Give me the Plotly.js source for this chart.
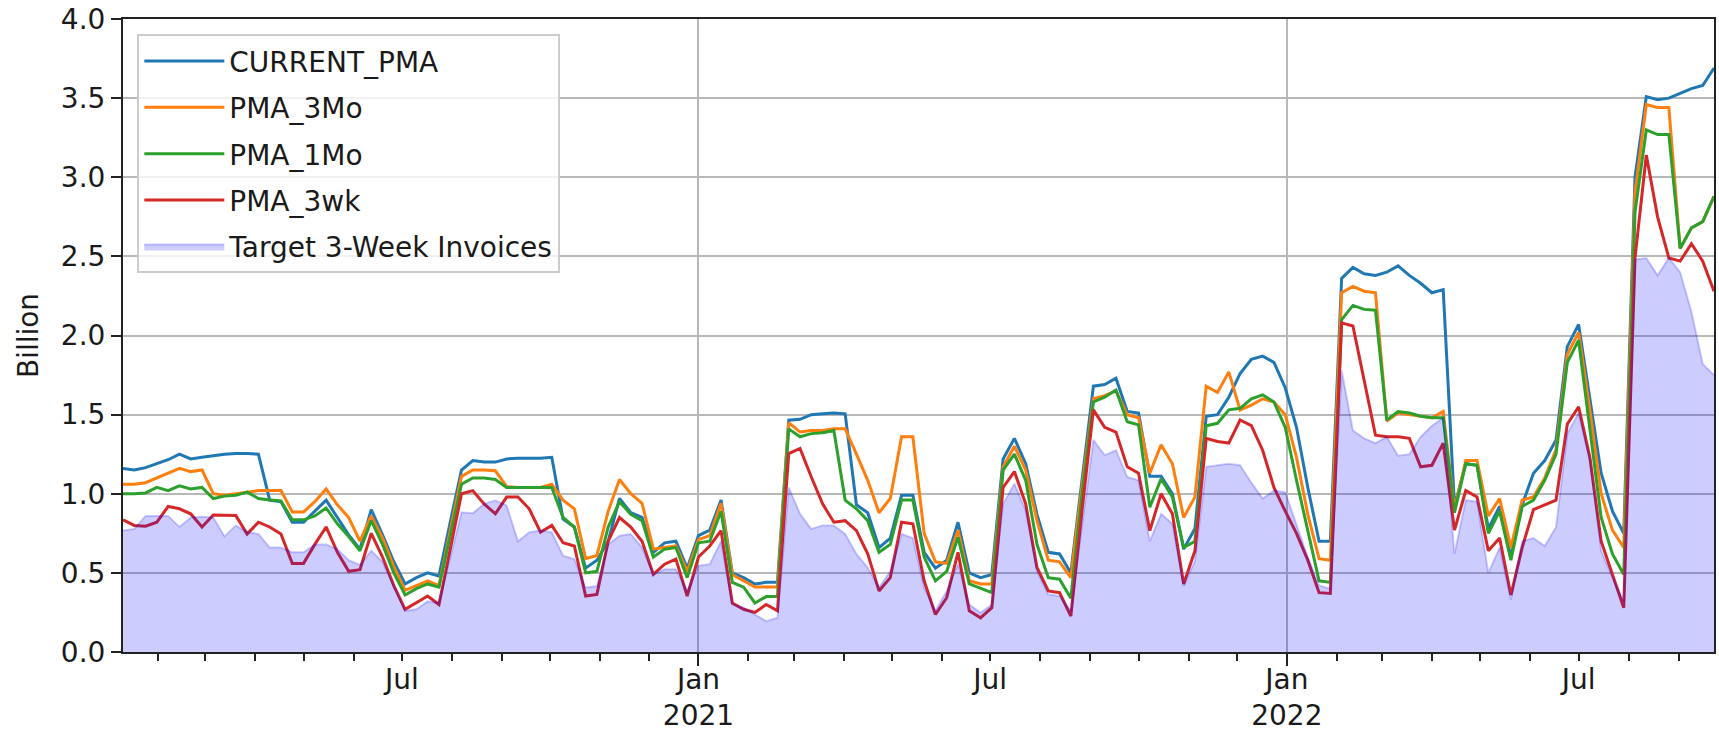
<!DOCTYPE html>
<html><head><meta charset="utf-8">
<script src="https://cdn.plot.ly/plotly-3.0.1.min.js"></script>
<style>html,body{margin:0;padding:0;background:#fff}#chart{width:1719px;height:732px}</style>
</head><body><div id="chart"></div>
<script>
// Weekly periods, first week ending Friday 2020-01-10
const firstWeek = '2020-01-10';
const weekCount = 142;

const currentPMA = [
 1.16,1.15,1.165,1.19,1.215,1.25,1.22,1.23,1.24,1.25,1.255,1.255,1.25,
 0.96,0.95,0.82,0.82,0.89,0.96,0.85,0.74,0.65,0.9,0.74,0.57,0.43,0.47,0.5,0.48,
 0.82,1.15,1.21,1.2,1.2,1.22,1.225,1.225,1.225,1.23,
 0.84,0.79,0.53,0.58,0.7,0.97,0.88,0.85,0.63,0.69,0.7,0.53,0.735,0.77,0.96,0.5,0.47,0.43,0.44,0.44,
 1.465,1.47,1.5,1.505,1.51,1.505,0.93,0.88,0.66,0.72,0.99,0.99,0.63,0.53,0.58,0.82,0.5,0.47,0.49,
 1.22,1.35,1.19,0.87,0.63,0.62,0.5,1.1,1.68,1.69,1.73,1.52,1.51,1.11,1.11,1.0,0.65,0.78,
 1.49,1.5,1.61,1.76,1.85,1.87,1.83,1.67,1.42,1.04,0.7,0.7,
 2.36,2.43,2.39,2.38,2.4,2.44,2.38,2.33,2.27,2.29,
 0.92,1.19,1.18,0.78,0.92,0.6,0.93,1.13,1.21,1.34,1.93,2.07,1.59,1.13,0.89,0.75,
 3.0,3.51,3.49,3.5,3.53,3.56,3.58,3.69
];
const pma3Mo = [
 1.06,1.06,1.07,1.1,1.13,1.16,1.14,1.15,1.0,0.99,1.0,1.01,1.02,
 1.02,1.02,0.885,0.885,0.95,1.03,0.93,0.85,0.7,0.86,0.72,0.54,0.39,0.42,0.45,0.42,
 0.77,1.11,1.15,1.15,1.145,1.045,1.04,1.04,1.04,1.06,
 0.96,0.905,0.59,0.61,0.89,1.09,1.0,0.94,0.65,0.66,0.67,0.51,0.71,0.735,0.94,0.49,0.45,0.41,0.41,0.41,
 1.45,1.39,1.4,1.4,1.41,1.41,1.25,1.085,0.88,0.97,1.36,1.36,0.75,0.57,0.56,0.77,0.45,0.43,0.43,
 1.17,1.3,1.15,0.83,0.58,0.57,0.47,1.05,1.6,1.62,1.65,1.5,1.48,1.13,1.31,1.19,0.85,0.98,
 1.68,1.64,1.77,1.53,1.56,1.6,1.58,1.5,1.23,0.87,0.59,0.58,
 2.27,2.31,2.28,2.27,1.46,1.51,1.5,1.49,1.48,1.52,
 0.9,1.21,1.21,0.86,0.97,0.66,0.96,0.98,1.1,1.28,1.88,2.02,1.53,1.0,0.77,0.66,
 2.9,3.46,3.44,3.44,2.55,2.68,2.72,2.88
];
const pma1Mo = [
 1.0,1.0,1.005,1.04,1.02,1.05,1.03,1.04,0.97,0.985,0.99,1.01,0.97,
 0.96,0.955,0.835,0.835,0.86,0.91,0.81,0.73,0.64,0.83,0.68,0.5,0.36,0.4,0.43,0.41,
 0.74,1.06,1.1,1.1,1.09,1.04,1.04,1.04,1.04,1.04,
 0.85,0.79,0.5,0.51,0.79,0.95,0.87,0.83,0.6,0.65,0.66,0.47,0.69,0.7,0.89,0.44,0.41,0.31,0.35,0.35,
 1.41,1.36,1.38,1.385,1.4,0.96,0.905,0.83,0.63,0.68,0.96,0.96,0.6,0.45,0.51,0.725,0.43,0.4,0.375,
 1.15,1.25,1.085,0.68,0.47,0.46,0.34,1.0,1.58,1.61,1.655,1.455,1.435,0.915,1.095,0.98,0.66,0.7,
 1.43,1.445,1.53,1.54,1.6,1.625,1.58,1.42,1.085,0.77,0.45,0.44,
 2.1,2.19,2.165,2.16,1.466,1.52,1.51,1.49,1.48,1.48,
 0.88,1.19,1.18,0.75,0.89,0.58,0.92,0.96,1.085,1.25,1.83,1.97,1.42,0.85,0.62,0.49,
 2.78,3.3,3.27,3.27,2.55,2.68,2.72,2.88
];
const pma3wk = [
 0.835,0.8,0.795,0.82,0.92,0.905,0.873,0.79,0.866,0.866,0.862,0.746,0.82,
 0.79,0.746,0.56,0.56,0.68,0.79,0.63,0.51,0.52,0.75,0.6,0.42,0.27,0.31,0.354,0.3,
 0.65,1.0,1.02,0.936,0.873,0.979,0.979,0.905,0.757,0.8,
 0.69,0.67,0.354,0.364,0.7,0.85,0.79,0.7,0.49,0.555,0.587,0.354,0.6,0.67,0.767,0.31,0.27,0.25,0.3,0.26,
 1.254,1.286,1.106,0.936,0.82,0.83,0.767,0.62,0.386,0.47,0.82,0.81,0.45,0.237,0.343,0.63,0.26,0.216,0.28,
 1.04,1.14,0.936,0.534,0.386,0.375,0.227,0.9,1.53,1.42,1.39,1.17,1.13,0.767,1.0,0.873,0.43,0.64,
 1.35,1.33,1.32,1.466,1.43,1.275,1.04,0.89,0.75,0.58,0.375,0.37,
 2.08,2.06,1.72,1.37,1.36,1.36,1.35,1.17,1.18,1.32,
 0.77,1.02,0.98,0.64,0.72,0.36,0.66,0.9,0.93,0.96,1.44,1.55,1.23,0.7,0.49,0.28,
 2.49,3.14,2.75,2.49,2.47,2.58,2.47,2.28
];
const target3Week = [
 0.767,0.777,0.86,0.86,0.86,0.79,0.85,0.855,0.85,0.73,0.8,0.757,0.746,
 0.66,0.66,0.63,0.63,0.68,0.68,0.65,0.58,0.55,0.64,0.57,0.42,0.26,0.27,0.32,0.31,
 0.6,0.883,0.877,0.936,0.958,0.926,0.7,0.757,0.767,0.757,
 0.608,0.587,0.407,0.417,0.68,0.735,0.746,0.66,0.49,0.523,0.523,0.386,0.545,0.555,0.7,0.3,0.28,0.237,0.195,0.216,
 1.04,0.873,0.777,0.8,0.8,0.746,0.62,0.534,0.407,0.51,0.746,0.72,0.407,0.26,0.386,0.555,0.3,0.248,0.3,
 0.936,1.064,0.894,0.51,0.364,0.354,0.26,0.8,1.34,1.244,1.275,1.106,1.085,0.7,0.873,0.81,0.417,0.576,
 1.17,1.18,1.19,1.18,1.07,0.97,1.02,1.01,0.8,0.6,0.42,0.4,
 1.78,1.4,1.35,1.32,1.36,1.24,1.25,1.36,1.43,1.48,
 0.62,0.96,0.95,0.5,0.66,0.33,0.7,0.72,0.67,0.79,1.38,1.51,1.21,0.64,0.47,0.32,
 2.48,2.49,2.38,2.49,2.4,2.15,1.82,1.75
];

const tickDates = ['2020-07-01','2021-01-01','2021-07-01','2022-01-01','2022-07-01'];
const tickLabels = ['Jul','Jan<br>2021','Jul','Jan<br>2022','Jul'];
const yearDates = ['2021-01-01','2022-01-01'];
const seriesNames = ['CURRENT_PMA','PMA_3Mo','PMA_1Mo','PMA_3wk','Target 3-Week Invoices'];
const yAxisLabel = 'Billion';

const t0 = Date.parse(firstWeek + 'T00:00:00Z');
const weeks = [];
for (let i = 0; i < weekCount; i++) weeks.push(new Date(t0 + i * 7 * 86400000).toISOString().slice(0, 10));

const colors = ['#1f77b4', '#ff7f0e', '#2ca02c', '#d62728'];
const lineSeries = [currentPMA, pma3Mo, pma1Mo, pma3wk];
const traces = lineSeries.map((ys, k) => ({
  x: weeks, y: ys, name: seriesNames[k], type: 'scatter', mode: 'lines',
  line: {color: colors[k], width: 3}, legendgroup: 'g' + k
}));
traces.push({
  x: weeks, y: target3Week, name: seriesNames[4], type: 'scatter', mode: 'lines',
  fill: 'tozeroy', fillcolor: 'rgba(0,0,255,0.2)',
  line: {color: 'rgba(0,0,255,0.2)', width: 2}, legendgroup: 'g4'
});
traces.push({x: [weeks[0]], y: [null], xaxis: 'x2', showlegend: false, hoverinfo: 'skip', mode: 'lines'});

const axisColor = '#222222';
const gridColor = '#b8b8b8';
const layout = {
  width: 1719, height: 732,
  margin: {l: 123, r: 5, t: 19, b: 80},
  paper_bgcolor: '#ffffff', plot_bgcolor: '#ffffff',
  font: {family: 'DejaVu Sans, sans-serif', size: 28, color: '#1a1a1a'},
  showlegend: true,
  legend: {
    x: 0.009, y: 0.976, xanchor: 'left', yanchor: 'top',
    bgcolor: 'rgba(255,255,255,0.8)', bordercolor: '#cccccc', borderwidth: 2,
    font: {size: 28}, tracegroupgap: 7, itemwidth: 80
  },
  xaxis: {
    type: 'date', range: [weeks[0], weeks[weekCount - 1]],
    tickmode: 'array', tickvals: tickDates, ticktext: tickLabels,
    ticks: 'outside', ticklen: 7, tickwidth: 2, tickcolor: axisColor,
    ticklabelstandoff: -6,
    showgrid: false, zeroline: false,
    showline: true, linecolor: axisColor, linewidth: 2, mirror: true,
    minor: {tickmode: 'linear', tick0: '2020-01-01', dtick: 'M1', ticks: 'outside', ticklen: 7, tickwidth: 2, tickcolor: axisColor, showgrid: false}
  },
  xaxis2: {
    type: 'date', overlaying: 'x', anchor: 'y', side: 'bottom',
    range: [weeks[0], weeks[weekCount - 1]],
    tickmode: 'array', tickvals: yearDates, showticklabels: false,
    ticks: 'outside', ticklen: 13, tickwidth: 2, tickcolor: axisColor,
    showgrid: true, gridcolor: gridColor, gridwidth: 2,
    showline: false, zeroline: false
  },
  yaxis: {
    range: [0, 4], tick0: 0, dtick: 0.5, tickformat: '.1f',
    ticks: 'outside', ticklen: 10, tickwidth: 2, tickcolor: axisColor,
    showgrid: true, gridcolor: gridColor, gridwidth: 2, zeroline: false,
    showline: true, linecolor: axisColor, linewidth: 2, mirror: true,
    title: {text: yAxisLabel, font: {size: 28}, standoff: 14}
  }
};
Plotly.newPlot('chart', traces, layout, {displayModeBar: false, staticPlot: true});
</script></body></html>
